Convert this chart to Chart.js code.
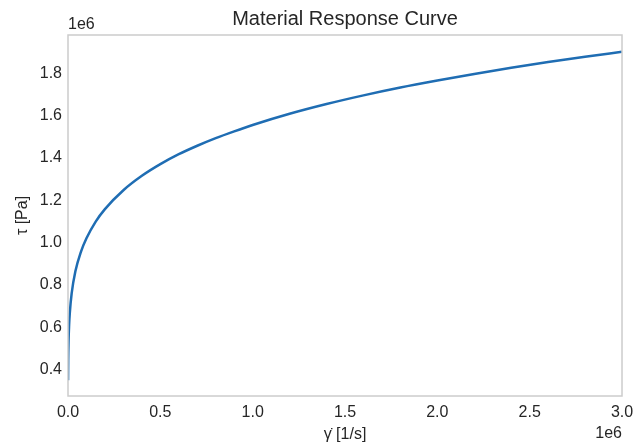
<!DOCTYPE html>
<html>
<head>
<meta charset="utf-8">
<script src="https://cdn.jsdelivr.net/npm/chart.js@4"></script>
<style>
  html, body { margin: 0; padding: 0; background: #ffffff; }
  #wrap { width: 635px; height: 444px; position: relative; }
</style>
</head>
<body>
<div id="wrap"><canvas id="c" width="635" height="444"></canvas></div>
<script>
// Shear rate (1/s) and shear stress (Pa)
const shearRate = [250, 1000, 3000, 6000, 10000, 20000, 40000, 70000, 100000, 150000, 200000, 300000, 400000, 500000, 600000, 700000, 800000, 900000, 1000000, 1200000, 1400000, 1600000, 1800000, 2000000, 2200000, 2400000, 2600000, 2800000, 3000000];
const shearStress = [350000, 440000, 537000, 610000, 670000, 761000, 864000, 956000, 1020000, 1099000, 1158000, 1247000, 1315000, 1370000, 1417000, 1457000, 1493000, 1525000, 1555000, 1608000, 1654000, 1695000, 1732000, 1765000, 1796000, 1825000, 1852000, 1877000, 1901000];
const xTicks = [0, 500000, 1000000, 1500000, 2000000, 2500000, 3000000];
const yTicks = [400000, 600000, 800000, 1000000, 1200000, 1400000, 1600000, 1800000];
const xRange = [0, 3000000];
const yRange = [275500, 1980000];
const titleText = 'Material Response Curve';
const xLabel = 'γ̇ [1/s]';
const yLabel = 'τ [Pa]';
const offsetText = '1e6';

const points = shearRate.map((g, i) => ({ x: g, y: shearStress[i] }));
const FONT = "'Liberation Sans', Arial, sans-serif";
const TXT = '#262626';

const framePlugin = {
  id: 'frame',
  afterDraw(chart) {
    const { ctx, chartArea: a } = chart;
    ctx.save();
    ctx.strokeStyle = '#cccccc';
    ctx.lineWidth = 1.5;
    ctx.strokeRect(a.left, a.top, a.right - a.left, a.bottom - a.top);
    ctx.fillStyle = TXT;
    ctx.font = "16px " + FONT;
    ctx.textBaseline = 'alphabetic';
    ctx.textAlign = 'left';
    ctx.fillText(offsetText, a.left, a.top - 6);
    ctx.textAlign = 'right';
    ctx.fillText(offsetText, a.right, 438);
    ctx.restore();
  }
};

new Chart(document.getElementById('c'), {
  type: 'line',
  data: {
    datasets: [{
      data: points,
      borderColor: '#1f6db3',
      borderWidth: 2.5,
      pointRadius: 0,
      fill: false,
      cubicInterpolationMode: 'monotone'
    }]
  },
  options: {
    responsive: false,
    animation: false,
    events: [],
    layout: { padding: { left: 0, right: 13, top: 0, bottom: 0 } },
    plugins: {
      legend: { display: false },
      tooltip: { enabled: false },
      title: {
        display: true,
        text: titleText,
        fullSize: false,
        color: TXT,
        font: { family: FONT, size: 20, weight: 'normal' },
        padding: { top: 7, bottom: 4 }
      }
    },
    scales: {
      x: {
        type: 'linear',
        min: xRange[0],
        max: xRange[1],
        afterBuildTicks: (axis) => { axis.ticks = xTicks.map(v => ({ value: v })); },
        afterFit: (axis) => { axis.height = 48; axis.paddingRight = 0; axis.paddingLeft = 0; },
        grid: { display: false, drawTicks: false },
        border: { display: false },
        ticks: {
          color: TXT,
          padding: 7,
          maxRotation: 0,
          font: { family: FONT, size: 16 },
          callback: (v) => (v / 1e6).toFixed(1)
        },
        title: {
          display: true,
          text: xLabel,
          color: TXT,
          font: { family: FONT, size: 16 },
          padding: { top: 0, bottom: 0 }
        }
      },
      y: {
        type: 'linear',
        min: yRange[0],
        max: yRange[1],
        afterBuildTicks: (axis) => { axis.ticks = yTicks.map(v => ({ value: v })); },
        afterFit: (axis) => { axis.width = 68; },
        grid: { display: false, drawTicks: false },
        border: { display: false },
        ticks: {
          color: TXT,
          padding: 6,
          font: { family: FONT, size: 16 },
          callback: (v) => (v / 1e6).toFixed(1)
        },
        title: {
          display: true,
          text: yLabel,
          color: TXT,
          font: { family: FONT, size: 16 },
          padding: { top: 13, bottom: 0 }
        }
      }
    }
  },
  plugins: [framePlugin]
});
</script>
</body>
</html>
